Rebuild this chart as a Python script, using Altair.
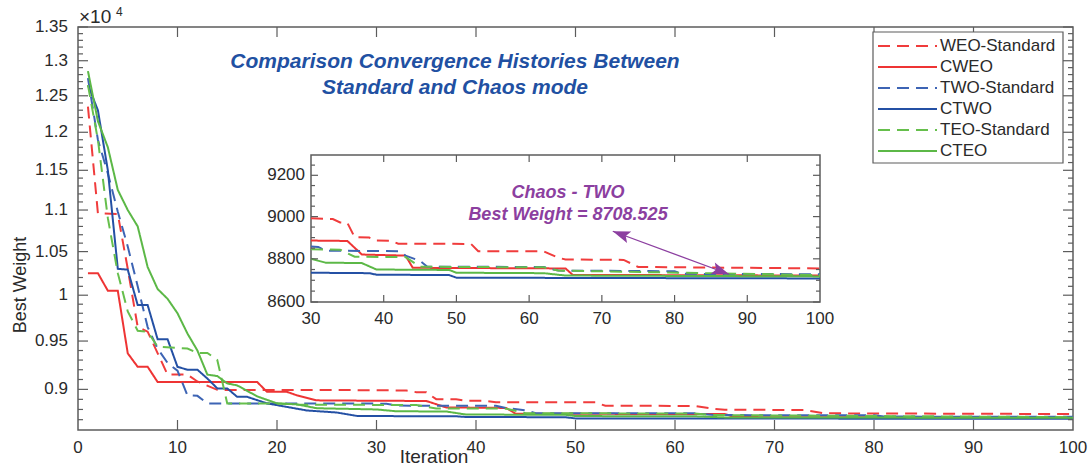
import altair as alt
import pandas as pd

# ---- series definitions -------------------------------------------------
series_names = ["WEO-Standard", "CWEO", "TWO-Standard", "CTWO", "TEO-Standard", "CTEO"]
series_colors = ["#f03c3c", "#ee3434", "#3d64b4", "#2450a4", "#66bf4c", "#5cb847"]
series_dash = [[12, 7], [1, 0], [12, 7], [1, 0], [12, 7], [1, 0]]

# best-weight histories (iteration, best weight) at the vertices of each curve
weo_std_iter = [1, 2, 4, 5, 6, 7, 9, 11, 12, 14, 30, 33, 34, 35, 36, 38, 39, 41, 42, 52, 53, 62, 64, 65, 73, 75, 100]
weo_std_val = [12350, 10960, 10950, 10300, 9650, 9600, 9150, 9150, 9080, 8995, 8992, 8988, 8972, 8970,
               8902, 8900, 8886, 8885, 8871, 8870, 8836, 8835, 8805, 8797, 8795, 8762, 8755]

cweo_iter = [1, 2, 3, 4, 5, 6, 7, 8, 18, 19, 21, 22, 24, 30, 35, 37, 43, 44, 65, 66, 100]
cweo_val = [10250, 10250, 10050, 10050, 9370, 9230, 9230, 9075, 9075, 8975, 8975, 8940, 8890, 8886,
            8884, 8820, 8815, 8758, 8755, 8725, 8722]

two_std_iter = [1, 2, 3, 4, 5, 6, 7, 8, 9, 10, 11, 12, 13, 30, 31, 32, 42, 43, 45, 46, 62, 64, 80, 81, 100]
two_std_val = [12750, 11900, 11460, 10980, 10560, 10100, 9650, 9420, 9270, 9190, 8940, 8935, 8860, 8858,
               8856, 8838, 8836, 8815, 8790, 8763, 8762, 8745, 8742, 8730, 8728]

ctwo_iter = [1, 2, 3, 4, 5, 6, 7, 8, 9, 10, 11, 12, 13, 14, 15, 16, 17, 19, 21, 23, 26, 28, 30, 38, 39,
             49, 50, 100]
ctwo_val = [12650, 12300, 11500, 10300, 10290, 9890, 9890, 9520, 9520, 9230, 9200, 9200, 9110, 9010,
            9010, 8925, 8925, 8860, 8825, 8790, 8770, 8737, 8735, 8733, 8726, 8724, 8712, 8708.525]

teo_std_iter = [1, 2, 3, 4, 5, 6, 7, 8, 11, 12, 13, 14, 15, 20, 22, 30, 34, 36, 43, 45, 62, 64, 100]
teo_std_val = [12650, 11900, 10900, 10250, 9820, 9610, 9600, 9440, 9420, 9375, 9375, 9300, 8860, 8860,
               8848, 8845, 8843, 8810, 8808, 8763, 8760, 8745, 8724]

cteo_iter = [1, 2, 3, 4, 5, 6, 7, 8, 9, 10, 11, 12, 13, 14, 15, 16, 18, 20, 22, 24, 30, 32, 37, 39,
             49, 50, 62, 65, 100]
cteo_val = [12850, 12150, 11800, 11250, 11000, 10800, 10320, 10070, 9960, 9800, 9580, 9400, 9150, 9135,
            9060, 9040, 8930, 8860, 8850, 8812, 8800, 8782, 8780, 8750, 8748, 8735, 8733, 8722, 8718]

# axis ticks
x_ticks = list(range(0, 101, 10))
y_major = [9000, 9500, 10000, 10500, 11000, 11500, 12000, 12500, 13000, 13500]
y_minor = [v for v in range(8700, 13500, 100) if v not in y_major]
inset_x_ticks = list(range(30, 101, 10))
inset_y_major = [8600, 8800, 9000, 9200]
inset_y_minor = [v for v in range(8650, 9300, 50) if v not in inset_y_major]

best_label = "Best Weight = 8708.525"

# ---- tidy table ---------------------------------------------------------
histories = [
    (weo_std_iter, weo_std_val), (cweo_iter, cweo_val), (two_std_iter, two_std_val),
    (ctwo_iter, ctwo_val), (teo_std_iter, teo_std_val), (cteo_iter, cteo_val),
]
rows = []
for name, (its, vals) in zip(series_names, histories):
    for it, v in zip(its, vals):
        rows.append({"series": name, "iteration": it, "weight": v})
df = pd.DataFrame(rows)
inset_df = df[df["iteration"] >= 30]

W, H = 995, 403
FRAME = "#5c5c5c"
LABEL = "#2a2a2a"
FONT = "Liberation Sans"

color_enc = alt.Color("series:N", scale=alt.Scale(domain=series_names, range=series_colors), legend=None)
dash_enc = alt.StrokeDash("series:N", scale=alt.Scale(domain=series_names, range=series_dash), legend=None)


def edge_ticks(values, sx, sy, xdom, ydom, side, length, width=1.2):
    """Inward-pointing tick marks along one edge of a panel."""
    d = pd.DataFrame({"v": values})
    if side in ("left", "right"):
        xv = xdom[0] if side == "left" else xdom[1]
        off = length if side == "left" else -length
        return alt.Chart(d).mark_rule(color=FRAME, strokeWidth=width, x2Offset=off).encode(
            y=alt.Y("v:Q", scale=sy, axis=None),
            x=alt.XDatum(xv, scale=sx, axis=None),
            x2=alt.X2Datum(xv),
        )
    yv = ydom[0] if side == "bottom" else ydom[1]
    off = -length if side == "bottom" else length
    return alt.Chart(d).mark_rule(color=FRAME, strokeWidth=width, y2Offset=off).encode(
        x=alt.X("v:Q", scale=sx, axis=None),
        y=alt.YDatum(yv, scale=sy, axis=None),
        y2=alt.Y2Datum(yv),
    )


def x_labels(values, sx, sy, y_at, texts, pad=10, size=17):
    d = pd.DataFrame({"v": values, "t": texts})
    return alt.Chart(d).mark_text(
        baseline="top", align="center", dy=pad, fontSize=size, color=LABEL, font=FONT
    ).encode(
        x=alt.X("v:Q", scale=sx, axis=None),
        y=alt.YDatum(y_at, scale=sy, axis=None),
        text="t:N",
    )


def y_labels(values, sx, sy, x_at, texts, pad=10, size=17):
    d = pd.DataFrame({"v": values, "t": texts})
    return alt.Chart(d).mark_text(
        baseline="middle", align="right", dx=-pad, fontSize=size, color=LABEL, font=FONT
    ).encode(
        y=alt.Y("v:Q", scale=sy, axis=None),
        x=alt.XDatum(x_at, scale=sx, axis=None),
        text="t:N",
    )


# ---- main panel ---------------------------------------------------------
x_dom, y_dom = [0, 100], [8600, 13500]
xs = alt.Scale(domain=x_dom, nice=False, zero=False)
ys = alt.Scale(type="log", domain=y_dom, nice=False)

main_lines = alt.Chart(df).mark_line(strokeWidth=2, clip=True).encode(
    x=alt.X("iteration:Q", scale=xs, axis=None),
    y=alt.Y("weight:Q", scale=ys, axis=None),
    color=color_enc,
    strokeDash=dash_enc,
)

main_group = alt.layer(
    main_lines,
    edge_ticks(y_major, xs, ys, x_dom, y_dom, "left", 10),
    edge_ticks(y_minor, xs, ys, x_dom, y_dom, "left", 5),
    edge_ticks(y_major, xs, ys, x_dom, y_dom, "right", 10),
    edge_ticks(y_minor, xs, ys, x_dom, y_dom, "right", 5),
    edge_ticks(x_ticks[1:-1], xs, ys, x_dom, y_dom, "bottom", 10),
    edge_ticks(x_ticks[1:-1], xs, ys, x_dom, y_dom, "top", 10),
    x_labels(x_ticks, xs, ys, y_dom[0], [str(v) for v in x_ticks], pad=10),
    y_labels(y_major, xs, ys, x_dom[0], [f"{v / 10000:g}" for v in y_major], pad=10),
)

# ---- inset panel (iterations 30-100) ------------------------------------
xi_dom, yi_dom = [30, 100], [8600, 9300]
xi = alt.Scale(domain=xi_dom, range=[233, 742], nice=False, zero=False)
yi = alt.Scale(type="log", domain=yi_dom, range=[275, 128], nice=False)

inset_frame = alt.Chart(pd.DataFrame({"a": [0]})).mark_rect(
    fill="white", stroke=FRAME, strokeWidth=1.5
).encode(
    x=alt.XDatum(xi_dom[0], scale=xi, axis=None), x2=alt.X2Datum(xi_dom[1]),
    y=alt.YDatum(yi_dom[0], scale=yi, axis=None), y2=alt.Y2Datum(yi_dom[1]),
)

inset_lines = alt.Chart(inset_df).mark_line(strokeWidth=2).encode(
    x=alt.X("iteration:Q", scale=xi, axis=None),
    y=alt.Y("weight:Q", scale=yi, axis=None),
    color=color_enc,
    strokeDash=dash_enc,
)

ann_color = "#8c3fa0"
arrow_df = pd.DataFrame({"x": [71.5], "y": [8930], "x2": [87.5], "y2": [8728]})
arrow_line = alt.Chart(arrow_df).mark_rule(color=ann_color, strokeWidth=1.3).encode(
    x=alt.X("x:Q", scale=xi, axis=None), y=alt.Y("y:Q", scale=yi, axis=None),
    x2="x2:Q", y2="y2:Q",
)
head_shape = "M0,0L0.6,1.7L0,1.35L-0.6,1.7Z"
head_start = alt.Chart(arrow_df).mark_point(
    shape=head_shape, filled=True, color=ann_color, opacity=1, size=420, angle=290
).encode(x=alt.X("x:Q", scale=xi, axis=None), y=alt.Y("y:Q", scale=yi, axis=None))
head_end = alt.Chart(arrow_df).mark_point(
    shape=head_shape, filled=True, color=ann_color, opacity=1, size=420, angle=110
).encode(x=alt.X("x2:Q", scale=xi, axis=None), y=alt.Y("y2:Q", scale=yi, axis=None))

inset_group = alt.layer(
    inset_frame,
    inset_lines,
    edge_ticks(inset_y_major, xi, yi, xi_dom, yi_dom, "left", 7),
    edge_ticks(inset_y_minor, xi, yi, xi_dom, yi_dom, "left", 4),
    edge_ticks(inset_y_major, xi, yi, xi_dom, yi_dom, "right", 7),
    edge_ticks(inset_y_minor, xi, yi, xi_dom, yi_dom, "right", 4),
    edge_ticks(inset_x_ticks[1:-1], xi, yi, xi_dom, yi_dom, "bottom", 7),
    edge_ticks(inset_x_ticks[1:-1], xi, yi, xi_dom, yi_dom, "top", 7),
    x_labels(inset_x_ticks, xi, yi, yi_dom[0], [str(v) for v in inset_x_ticks], pad=9),
    y_labels(inset_y_major, xi, yi, xi_dom[0], [str(v) for v in inset_y_major], pad=6),
    arrow_line, head_start, head_end,
)

# ---- legend and text ----------------------------------------------------
one = pd.DataFrame({"a": [0]})
legend_df = pd.DataFrame({"series": series_names})
ly = alt.Y("series:N", scale=alt.Scale(type="point", domain=series_names, range=[19, 124], padding=0),
           axis=None)

legend_box = alt.Chart(one).mark_rect(fill="white", stroke=FRAME, strokeWidth=1.2).encode(
    x=alt.value(795), x2=alt.value(985), y=alt.value(5), y2=alt.value(136))
legend_lines = alt.Chart(legend_df).mark_rule(strokeWidth=2).encode(
    x=alt.value(800), x2=alt.value(859), y=ly, color=color_enc, strokeDash=dash_enc)
legend_text = alt.Chart(legend_df).mark_text(
    align="left", baseline="middle", fontSize=17, color=LABEL, font=FONT
).encode(x=alt.value(862), y=ly, text="series:N")


def label(text, x, y, size, color=LABEL, style="normal", weight="normal", angle=0, align="center",
          baseline="middle"):
    return alt.Chart(one).mark_text(
        text=text, fontSize=size, color=color, fontStyle=style, fontWeight=weight, font=FONT,
        angle=angle, align=align, baseline=baseline,
    ).encode(x=alt.value(x), y=alt.value(y))


title_color = "#2150a2"
texts = alt.layer(
    label("Comparison Convergence Histories Between", 377, 35, 21, title_color, "italic", "bold"),
    label("Standard and Chaos mode", 377, 61, 21, title_color, "italic", "bold"),
    label("Chaos - TWO", 490, 166, 18, ann_color, "italic", "bold"),
    label(best_label, 490, 188, 18, ann_color, "italic", "bold"),
    label("\u00d710", 1, -4, 19, LABEL, align="left", baseline="alphabetic"),
    label("4", 38, -11, 12, LABEL, align="left", baseline="alphabetic"),
    label("Best Weight", -57, 258, 18, LABEL, angle=270),
    label("Iteration", 356, 436, 19, LABEL, baseline="alphabetic"),
)

legend_group = alt.layer(legend_box, legend_lines, legend_text, texts)

chart = alt.layer(main_group, inset_group, legend_group).resolve_scale(
    x="independent", y="independent"
).properties(
    width=W, height=H,
    autosize=alt.AutoSizeParams(type="none"),
    padding={"left": 78, "top": 27, "right": 17, "bottom": 38},
    background="white",
).configure_view(
    stroke=FRAME, strokeWidth=1.5
)

chart.save("out.html", embed_options={"renderer": "svg", "actions": False})
